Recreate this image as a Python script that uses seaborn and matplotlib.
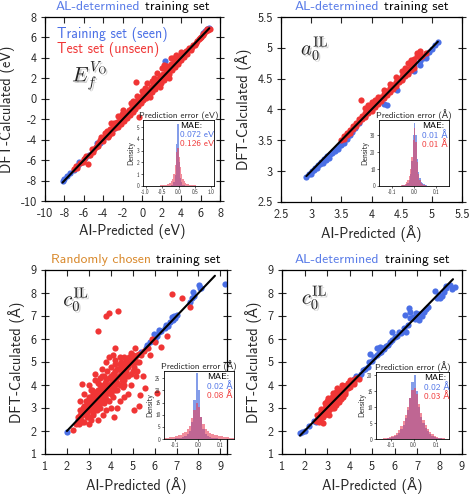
import numpy as np
import pandas as pd
import matplotlib.pyplot as plt
import matplotlib.patheffects as pe
from matplotlib.offsetbox import TextArea, HPacker, AnchoredOffsetbox
import seaborn as sns

# Data
# --------------

# Panel 1: oxygen vacancy formation energy (eV), AL-determined training set
ef_train = [(-8.2, -8.0), (-8.0, -7.8), (-7.7, -7.6), (-7.4, -7.3), (-7.0, -7.0),
            (-6.6, -6.5), (-6.5, -6.2), (-6.2, -6.2), (-5.9, -5.8), (-5.5, -5.5),
            (-5.1, -5.0), (-4.7, -4.6), (-4.7, -4.3), (-4.3, -4.3), (-4.0, -3.9),
            (-3.0, -3.0), (-2.0, -2.0), (-1.0, -1.0), (0.0, 0.0), (1.0, 1.0),
            (2.3, 3.7), (3.0, 3.0), (4.0, 4.0), (5.0, 5.0), (6.0, 6.0),
            (6.3, 6.4), (6.5, 6.6), (6.7, 6.8), (6.9, 6.9)]
ef_test = [(-7.0, -6.9), (-6.7, -6.8), (-6.4, -6.3), (-6.1, -6.2), (-5.8, -5.6),
           (-5.6, -6.4), (-5.4, -5.5), (-5.1, -5.2), (-4.8, -4.7), (-4.5, -4.6),
           (-4.3, -4.0), (-4.0, -4.1), (-3.7, -3.6), (-3.5, -3.7), (-3.3, -3.0),
           (-3.1, -3.3), (-3.0, -2.6), (-2.8, -2.9), (-2.6, -2.3), (-2.5, -2.8),
           (-2.3, -2.0), (-2.2, -2.5), (-2.0, -1.8), (-1.9, -2.2), (-1.7, -1.4),
           (-1.6, -1.9), (-1.4, -1.1), (-1.3, -1.6), (-1.1, -0.8), (-1.0, -1.3),
           (-0.8, -0.5), (-0.7, -1.0), (-0.6, 1.6), (-0.5, -0.2), (-0.4, -0.7),
           (-0.35, -1.8), (-0.2, 0.1), (-0.1, -0.4), (0.0, 0.3), (0.1, -0.1),
           (0.3, 0.5), (0.4, 0.1), (0.6, 0.9), (0.7, 0.4), (0.9, 1.2),
           (1.0, 0.7), (1.2, 1.5), (1.3, 1.0), (1.5, 1.8), (1.6, 1.3),
           (1.8, 2.2), (1.9, 1.5), (2.1, 2.4), (2.2, 1.8), (2.4, 2.8),
           (2.5, 2.1), (2.7, 3.0), (2.8, 2.4), (3.0, 3.4), (3.1, 2.8),
           (3.3, 3.6), (3.4, 3.1), (3.6, 3.9), (3.7, 3.4), (3.9, 4.2),
           (4.0, 3.8), (4.2, 4.5), (4.3, 4.1), (4.5, 4.7), (4.6, 4.4),
           (4.8, 5.0), (5.0, 4.8), (5.2, 5.3), (5.4, 5.3), (5.6, 5.7),
           (5.8, 5.8), (6.0, 6.0), (6.2, 6.2), (6.4, 6.4), (6.6, 6.6),
           (6.8, 6.7), (7.0, 6.8), (-3.2, -2.4), (-2.0, -1.1), (-1.2, -0.4),
           (0.5, 1.5), (1.5, 2.5), (2.0, 3.0), (3.0, 4.0), (0.0, 0.8),
           (-0.5, 0.3), (1.0, 1.7), (2.5, 3.2), (3.5, 4.3), (-2.5, -1.7),
           (-4.5, -4.3), (-5.2, -4.9), (0.8, 0.2), (1.8, 1.2), (2.8, 2.0),
           (-4.2, -3.7), (-3.8, -3.3), (-3.4, -3.5), (-2.9, -2.4), (-2.7, -2.6),
           (-2.4, -2.4), (-2.1, -1.5), (-1.8, -1.7), (-1.5, -1.5), (-1.2, -1.0),
           (-0.9, -0.9), (-0.6, -0.3), (-0.3, -0.3), (0.2, 0.2), (0.5, 0.6),
           (0.8, 0.8), (1.1, 1.3), (1.4, 1.4), (1.7, 1.9), (2.0, 2.1),
           (2.3, 2.4), (2.6, 2.7), (2.9, 2.8), (3.2, 3.3), (3.5, 3.6),
           (3.8, 3.7), (4.1, 4.2), (4.4, 4.4), (4.7, 4.8), (5.1, 5.1),
           (5.5, 5.5), (5.9, 5.9), (6.3, 6.3), (6.7, 6.8), (-1.0, -0.2),
           (0.3, 1.1), (1.2, 2.0), (2.2, 3.3), (3.2, 4.0), (4.0, 4.6),
           (-3.6, -3.2), (-6.0, -5.9), (-6.8, -6.6), (-5.0, -4.9), (-4.6, -4.4)]
ef_line = [-8.2, 6.9]
ef_err_start, ef_err_width = -0.72, 0.04
ef_err_train = [0, 0, 0, 0, 0, 0, 0, 0, 0.01, 0.02, 0.03, 0.04, 0.06, 0.12, 0.30, 0.90,
                3.60, 5.30, 2.00, 0.70, 0.30, 0.12, 0.06, 0.04, 0.03, 0.02, 0.01,
                0, 0, 0, 0, 0, 0, 0, 0, 0]
ef_err_test = [0.02, 0.02, 0.03, 0.03, 0.05, 0.05, 0.08, 0.10, 0.12, 0.16, 0.20, 0.28,
               0.40, 0.62, 1.00, 1.80, 2.90, 3.20, 2.50, 1.60, 1.00, 0.62, 0.40, 0.28,
               0.20, 0.15, 0.12, 0.10, 0.08, 0.06, 0.05, 0.04, 0.03, 0.03, 0.02, 0.02]
ef_mae = ["0.072 eV", "0.126 eV"]

# Panel 2: in-plane lattice constant a0 (Å), AL-determined training set
a0_train = [(2.92, 2.91), (2.97, 2.95), (3.02, 3.00), (3.07, 3.05), (3.12, 3.10),
            (3.17, 3.15), (3.22, 3.20), (3.25, 3.18), (3.27, 3.25), (3.30, 3.22),
            (3.32, 3.28), (3.35, 3.30), (3.37, 3.33), (3.42, 3.38), (3.45, 3.36),
            (3.47, 3.43), (3.52, 3.47), (3.55, 3.46), (3.57, 3.53), (3.62, 3.58),
            (3.67, 3.63), (3.72, 3.70), (3.80, 3.78), (3.90, 3.90), (4.00, 4.00),
            (4.10, 4.10), (4.21, 4.09), (4.26, 4.08), (4.43, 4.32), (4.50, 4.50),
            (4.60, 4.60), (4.70, 4.62), (4.70, 4.70), (4.80, 4.72), (4.80, 4.78),
            (4.85, 4.83), (4.90, 4.83), (4.90, 4.88), (4.95, 4.93), (5.00, 4.98),
            (5.05, 5.04), (5.10, 5.10), (3.00, 2.95), (3.10, 3.05), (3.20, 3.13),
            (3.40, 3.32), (3.50, 3.42), (3.60, 3.52), (3.65, 3.58), (3.15, 3.12),
            (3.05, 3.02)]
a0_test = [(3.50, 3.50), (3.55, 3.57), (3.60, 3.62), (3.65, 3.66), (3.70, 3.73),
           (3.75, 3.78), (3.80, 3.84), (3.83, 4.15), (3.85, 3.90), (3.90, 3.95),
           (3.95, 4.00), (4.00, 4.05), (4.05, 4.10), (4.10, 4.15), (4.15, 4.20),
           (4.20, 4.25), (4.25, 4.30), (4.30, 4.35), (4.35, 4.40), (4.40, 4.45),
           (4.45, 4.50), (4.50, 4.55), (4.55, 4.60), (4.60, 4.65), (4.65, 4.70),
           (4.70, 4.75), (4.75, 4.91), (4.80, 4.85), (4.84, 4.86), (4.90, 4.92),
           (3.60, 3.58), (3.70, 3.68), (3.80, 3.79), (3.90, 3.88), (4.00, 3.98),
           (4.10, 4.09), (4.20, 4.18), (4.30, 4.28), (4.40, 4.38), (4.50, 4.48),
           (4.60, 4.58), (4.70, 4.68), (3.90, 4.02), (4.00, 4.12), (4.10, 4.20),
           (4.30, 4.42), (4.50, 4.62), (4.60, 4.75), (4.70, 4.82), (4.65, 4.80),
           (4.80, 4.95), (4.78, 4.92), (3.55, 3.52), (3.65, 3.62), (3.75, 3.74),
           (3.85, 3.84), (3.95, 3.94), (4.05, 4.04), (4.15, 4.14), (4.25, 4.24),
           (4.35, 4.34), (4.45, 4.44), (4.55, 4.54), (4.65, 4.64), (3.95, 4.08),
           (4.05, 4.16), (4.20, 4.32), (4.40, 4.52), (4.55, 4.68), (4.75, 4.87)]
a0_line = [2.92, 5.1]
a0_err_start, a0_err_width = -0.072, 0.006
a0_err_train = [0.1, 0.1, 0.2, 0.3, 0.5, 0.8, 1.2, 2.0, 3.5, 7, 15, 30, 37, 30, 16, 8,
                4.5, 2.5, 1.5, 0.9, 0.5, 0.3, 0.2, 0.1]
a0_err_test = [0.1, 0.2, 0.3, 0.5, 0.8, 1.3, 2.2, 3.6, 6, 10, 17, 27, 34, 26, 14, 7,
               3.5, 1.8, 0.9, 0.5, 0.3, 0.2, 0.1, 0.1]
a0_mae = ["0.01 Å", "0.01 Å"]

# Panel 3: out-of-plane lattice constant c0 (Å), randomly chosen training set
c0r_train = [(2.0, 1.95), (2.5, 2.5), (3.0, 3.0), (3.5, 3.5), (4.0, 4.0), (4.5, 4.5),
             (5.0, 5.0), (5.4, 5.45), (5.6, 5.6), (5.64, 5.74), (5.8, 5.85), (5.95, 6.2),
             (6.0, 6.05), (6.0, 5.9), (6.1, 6.15), (6.2, 6.3), (6.22, 6.39), (6.3, 6.35),
             (6.45, 6.5), (6.5, 6.6), (6.6, 6.55), (6.7, 6.75), (6.81, 6.97), (6.86, 6.83),
             (6.9, 7.0), (6.95, 6.9), (7.0, 7.05), (7.6, 7.6), (7.69, 7.77), (7.76, 8.06),
             (7.8, 7.85), (8.02, 8.35), (8.06, 8.23), (8.1, 8.2), (9.2, 8.38)]
c0r_test = [(2.29, 2.04), (2.4, 2.3), (2.5, 2.6), (2.55, 2.3), (2.6, 2.9), (2.65, 2.5),
            (2.69, 4.03), (2.7, 2.7), (2.75, 3.0), (2.8, 2.4), (2.85, 3.3), (2.9, 2.8),
            (2.95, 3.1), (3.0, 2.6), (3.0, 3.5), (3.05, 3.0), (3.1, 3.3), (3.1, 2.5),
            (3.15, 3.8), (3.2, 3.1), (3.2, 2.8), (3.25, 3.5), (3.3, 3.2), (3.3, 4.2),
            (3.35, 2.9), (3.4, 3.6), (3.42, 6.35), (3.45, 3.3), (3.5, 4.0), (3.5, 3.0),
            (3.55, 3.7), (3.6, 3.4), (3.6, 4.4), (3.65, 2.7), (3.7, 3.8), (3.7, 3.2),
            (3.75, 4.1), (3.8, 3.6), (3.8, 7.0), (3.85, 4.6), (3.9, 7.15), (3.9, 3.9),
            (3.9, 3.3), (3.95, 4.3), (4.0, 3.7), (4.0, 4.8), (4.05, 4.1), (4.1, 3.5),
            (4.13, 2.62), (4.15, 4.5), (4.2, 4.0), (4.2, 5.1), (4.21, 5.62), (4.25, 4.3),
            (4.3, 3.8), (4.31, 7.22), (4.35, 4.7), (4.4, 4.4), (4.4, 3.3), (4.45, 5.0),
            (4.5, 4.2), (4.5, 4.6), (4.55, 3.9), (4.6, 5.2), (4.65, 4.7), (4.7, 4.4),
            (4.75, 5.0), (4.8, 4.8), (4.8, 3.6), (4.85, 5.2), (4.9, 4.5), (4.95, 5.0),
            (5.0, 5.3), (5.04, 2.91), (5.05, 4.8), (5.1, 5.2), (5.15, 4.4), (5.2, 5.3),
            (5.27, 3.07), (5.3, 5.0), (5.34, 3.57), (5.4, 5.3), (5.49, 4.41), (5.54, 3.88),
            (5.5, 5.5), (5.7, 5.6), (5.8, 5.3), (6.1, 3.64), (6.31, 5.64), (6.58, 6.14),
            (6.81, 7.94), (7.23, 7.80), (7.6, 7.37), (6.0, 5.85), (5.9, 6.0),
            (2.9, 3.0), (3.1, 3.15), (3.3, 3.35), (3.5, 3.55), (3.7, 3.65), (3.9, 4.0),
            (4.1, 4.15), (4.3, 4.35), (4.5, 4.55), (4.7, 4.75), (4.9, 4.95), (5.1, 5.05),
            (5.3, 5.35), (3.4, 3.8), (3.6, 3.9), (3.8, 4.2), (4.0, 4.4), (4.2, 4.6),
            (4.4, 4.9), (4.6, 4.9), (3.2, 3.6), (3.0, 3.3), (2.8, 3.1), (2.6, 2.7),
            (3.5, 3.2), (3.7, 3.5), (3.9, 3.7), (4.1, 3.9), (4.3, 4.1), (4.5, 4.3),
            (4.7, 4.6), (3.3, 3.0), (3.1, 2.9), (2.9, 2.6), (2.5, 2.4), (2.7, 2.4),
            (3.6, 4.7), (3.8, 5.0), (4.1, 5.3), (3.3, 4.5), (3.0, 4.0), (2.8, 3.6),
            (2.6, 3.3), (4.6, 3.5), (4.9, 4.0), (5.2, 4.6), (4.3, 3.0), (3.8, 2.9),
            (3.4, 2.5), (3.0, 2.3), (4.0, 3.0), (5.2, 5.0),
            (3.0, 3.05), (3.2, 3.25), (3.4, 3.45), (3.6, 3.65), (3.8, 3.85), (4.0, 4.05),
            (4.2, 4.25), (4.4, 4.45), (4.6, 4.65), (4.8, 4.85), (5.0, 5.05), (3.5, 3.8),
            (3.7, 4.0), (3.9, 4.3), (4.1, 4.5), (4.3, 4.7), (4.5, 4.8), (4.7, 5.1),
            (4.9, 5.2), (3.3, 3.7), (3.1, 3.5), (2.9, 3.3), (3.6, 3.3), (3.8, 3.4),
            (4.0, 3.6), (4.2, 3.8), (4.4, 4.0), (4.6, 4.2), (4.8, 4.4), (3.4, 3.1),
            (3.2, 2.7), (2.7, 2.9), (3.4, 4.1), (3.1, 3.8), (4.2, 4.9), (4.4, 5.2),
            (3.7, 4.4), (3.9, 5.2), (3.5, 4.3), (5.0, 4.6), (4.6, 4.0), (4.9, 5.4),
            (5.1, 5.6)]
c0r_line = [2.0, 8.75]
c0r_err_start, c0r_err_width = -0.15, 0.01
c0r_err_train = [0, 0, 0, 0.1, 0.2, 0.3, 0.4, 0.6, 0.8, 1.2, 2.0, 3.5, 7.0, 16, 27, 20,
                 9, 4.0, 2.0, 1.2, 0.8, 0.5, 0.4, 0.3, 0.2, 0.1, 0.1, 0, 0, 0, 0]
c0r_err_test = [0.5, 0.6, 0.7, 0.9, 1.0, 1.2, 1.5, 1.8, 2.3, 3.0, 4.0, 5.5, 8.5, 12, 15, 13,
                9, 6.0, 4.2, 3.2, 2.6, 2.2, 1.8, 1.5, 1.3, 1.1, 1.0, 0.8, 0.7, 0.6, 0.5]
c0r_mae = ["0.02 Å", "0.08 Å"]

# Panel 4: out-of-plane lattice constant c0 (Å), AL-determined training set
c0a_train = [(1.8, 1.9), (1.9, 1.95), (2.0, 2.0), (2.2, 2.2), (2.4, 2.45), (2.5, 2.4),
             (3.0, 3.0), (3.5, 3.5), (4.0, 4.0), (4.2, 4.25), (4.3, 4.4), (4.4, 4.35),
             (4.5, 4.5), (4.6, 4.65), (4.7, 4.7), (4.8, 4.8), (4.85, 5.0), (4.93, 5.33),
             (5.0, 5.05), (5.1, 5.2), (5.2, 5.3), (5.22, 5.62), (5.3, 5.4), (5.35, 5.65),
             (5.4, 5.45), (5.5, 5.6), (5.55, 5.55), (5.6, 5.7), (5.7, 5.75), (5.8, 5.85),
             (5.9, 5.95), (5.9, 6.32), (6.0, 6.1), (6.1, 6.15), (6.2, 6.3), (6.3, 6.25),
             (6.4, 6.5), (6.47, 7.04), (6.5, 6.32), (6.6, 6.6), (6.65, 7.36), (6.69, 7.19),
             (6.7, 6.9), (6.8, 6.95), (6.9, 6.85), (6.95, 7.12), (7.0, 7.0), (7.07, 6.83),
             (7.1, 7.1), (7.2, 7.0), (7.32, 7.19), (7.4, 7.3), (7.5, 7.4), (7.82, 8.09),
             (7.9, 7.8), (7.97, 7.91), (8.03, 7.77), (8.1, 7.85), (8.22, 8.06), (8.3, 8.2),
             (8.3, 8.3), (8.45, 8.35), (8.57, 8.17), (8.67, 8.28)]
c0a_test = [(2.5, 2.45), (2.6, 2.6), (2.65, 2.4), (2.7, 2.8), (2.75, 2.55), (2.8, 2.9),
            (2.83, 2.33), (2.85, 2.7), (2.9, 3.0), (2.95, 2.8), (3.0, 3.1), (3.0, 2.75),
            (3.05, 2.95), (3.1, 3.2), (3.1, 2.9), (3.15, 3.0), (3.2, 3.3), (3.2, 3.14),
            (3.25, 3.4), (3.3, 3.2), (3.35, 3.57), (3.35, 3.35), (3.4, 3.3), (3.45, 3.6),
            (3.5, 3.5), (3.53, 3.28), (3.55, 3.7), (3.6, 3.55), (3.65, 4.0), (3.65, 3.6),
            (3.7, 3.75), (3.75, 3.85), (3.8, 3.7), (3.85, 3.9), (3.9, 4.0), (3.95, 3.85),
            (4.03, 4.22), (4.0, 4.05), (4.1, 4.1), (4.15, 4.2), (4.2, 4.15), (4.3, 4.3),
            (4.4, 4.25), (3.2, 3.5), (3.0, 3.3), (2.9, 3.2), (3.4, 3.7), (3.6, 3.8),
            (3.1, 2.7), (3.3, 3.0), (2.7, 2.6), (3.5, 3.25), (3.8, 3.95), (3.7, 3.5),
            (2.55, 2.7), (2.75, 2.95), (2.95, 3.15), (3.15, 3.35), (3.35, 3.5), (3.55, 3.75),
            (3.75, 3.95), (3.95, 4.1), (2.6, 2.45), (2.8, 2.6), (3.0, 2.8), (3.2, 3.0),
            (3.4, 3.15), (3.6, 3.4), (3.8, 3.6), (4.0, 3.9), (4.2, 4.05), (3.45, 3.85),
            (3.25, 3.65), (3.05, 3.45)]
c0a_line = [1.8, 8.6]
c0a_err_start, c0a_err_width = -0.16, 0.01
c0a_err_train = [0, 0, 0.1, 0.1, 0.2, 0.3, 0.5, 0.8, 1.3, 2.0, 3.0, 4.5, 6.5, 9.0, 13, 18,
                 20, 15, 10, 7, 5, 3.5, 2.4, 1.5, 0.9, 0.6, 0.4, 0.3, 0.2, 0.1, 0.1, 0]
c0a_err_test = [0.1, 0.1, 0.2, 0.3, 0.4, 0.6, 0.9, 1.4, 2.0, 2.8, 4.0, 5.5, 7.5, 10, 13, 15.5,
                16, 14, 11, 8, 6, 4.5, 3.2, 2.2, 1.5, 1.0, 0.6, 0.4, 0.3, 0.2, 0.1, 0.1]
c0a_mae = ["0.02 Å", "0.03 Å"]

# Set-up
# --------------
BLUE = "#4a6fe6"
RED = "#f03535"
TITLE_BLUE = "#5a7ce8"
ORANGE = "#d98a2e"
HIST_BLUE = "#6f8ce6"
HIST_RED = "#e8425a"

sns.set_theme(style="ticks")
plt.rcParams["font.family"] = ["cmss10", "DejaVu Sans"]
plt.rcParams["axes.unicode_minus"] = False
plt.rcParams["mathtext.fontset"] = "cm"
plt.rcParams["axes.edgecolor"] = "black"

W, H = 469, 497
figure = plt.figure(figsize=(W / 100, H / 100), dpi=100)


def px_rect(l, t, r, b):
    return [l / W, 1 - b / H, (r - l) / W, (b - t) / H]


def two_tone_title(ax, first, color):
    box = HPacker(children=[TextArea(first, textprops=dict(color=color, fontsize=9.8)),
                            TextArea("training set", textprops=dict(color="black", fontsize=9.8))],
                  align="baseline", pad=0, sep=4)
    anchored = AnchoredOffsetbox(loc="lower center", child=box, pad=0, borderpad=0,
                                 frameon=False, bbox_to_anchor=(0.5, 1.02),
                                 bbox_transform=ax.transAxes)
    ax.add_artist(anchored)


def draw_panel(rect, inset_rect, train, test, line, lims, ticks, unit, symbol, sym_pos,
               err_start, err_width, err_train, err_test, err_lim, err_xticks, err_yticks,
               mae, mae_x):
    ax = figure.add_axes(px_rect(*rect))
    tr = pd.DataFrame(train, columns=["pred", "calc"])
    te = pd.DataFrame(test, columns=["pred", "calc"])
    sns.scatterplot(data=tr, x="pred", y="calc", color=BLUE, s=20, linewidth=0, ax=ax, zorder=2)
    sns.scatterplot(data=te, x="pred", y="calc", color=RED, s=20, linewidth=0, ax=ax, zorder=3)
    sns.lineplot(x=line, y=line, color="black", linewidth=1.5, ax=ax, zorder=4)
    ax.set(xlim=lims[0], ylim=lims[1], xticks=ticks[0], yticks=ticks[1])
    ax.set_xticklabels([f"{t:g}" for t in ticks[0]])
    ax.set_yticklabels([f"{t:g}" for t in ticks[1]])
    ax.set_xlabel(f"AI-Predicted ({unit})", fontsize=10.3, labelpad=3)
    ax.set_ylabel(f"DFT-Calculated ({unit})", fontsize=10.3, labelpad=4)
    ax.tick_params(axis="x", direction="in", top=True, length=4, width=0.8, labelsize=8.8, pad=5)
    ax.tick_params(axis="y", direction="inout", right=True, length=6, width=0.8, labelsize=8.8, pad=3)
    for s in ax.spines.values():
        s.set_linewidth(0.9)
    ax.text(sym_pos[0], sym_pos[1], symbol, transform=ax.transAxes, fontsize=15,
            va="center", ha="left", color="#222222",
            path_effects=[pe.withSimplePatchShadow(offset=(1.2, -1.2), shadow_rgbFace="0.45", alpha=0.35)])

    # Inset with the prediction error distributions
    ins = figure.add_axes(px_rect(*inset_rect))
    edges = err_start + err_width * np.arange(len(err_train) + 1)
    hist = pd.DataFrame({"err": edges[:-1] + err_width / 2,
                         "train": err_train, "test": err_test})
    bins = [float(e) for e in edges]
    sns.histplot(data=hist, x="err", weights="train", bins=bins, color=HIST_BLUE, alpha=0.85,
                 linewidth=0, ax=ins)
    sns.histplot(data=hist, x="err", weights="test", bins=bins, color=HIST_RED, alpha=0.6,
                 linewidth=0, ax=ins)
    ins.set(xlim=err_lim[0], ylim=err_lim[1], xticks=err_xticks, yticks=err_yticks)
    ins.set_xticklabels([f"{t:.1f}" for t in err_xticks])
    ins.set_xlabel("")
    ins.set_ylabel("Density", fontsize=5.5, labelpad=1)
    ins.set_title(f"Prediction error ({unit})", fontsize=6.5, pad=1.5)
    ins.tick_params(direction="out", length=1.5, width=0.5, labelsize=3.8, pad=1)
    for s in ins.spines.values():
        s.set_linewidth(0.6)
    ins.text(mae_x, 0.905, "MAE:", transform=ins.transAxes, fontsize=6.6, va="center", color="black")
    ins.text(mae_x, 0.77, mae[0], transform=ins.transAxes, fontsize=6.6, va="center", color=BLUE)
    ins.text(mae_x, 0.635, mae[1], transform=ins.transAxes, fontsize=6.6, va="center", color=RED)
    return ax


ax1 = draw_panel((45, 17, 220, 201), (143, 120, 214, 186), ef_train, ef_test, ef_line,
                 ((-10, 8), (-10, 8)), (range(-10, 9, 2), range(-10, 9, 2)), "eV",
                 r"$E_f^{V_{\rm O}}$", (0.155, 0.68),
                 ef_err_start, ef_err_width, ef_err_train, ef_err_test,
                 ((-1.08, 1.08), (0, 5.6)), [-1.0, -0.5, 0.0, 0.5, 1.0], range(0, 6), ef_mae, 0.52)
ax1.text(0.07, 0.905, "Training set (seen)", transform=ax1.transAxes, fontsize=10,
         color=BLUE, va="center")
ax1.text(0.07, 0.825, "Test set (unseen)", transform=ax1.transAxes, fontsize=10,
         color=RED, va="center")
two_tone_title(ax1, "AL-determined", TITLE_BLUE)

ax2 = draw_panel((281, 17, 462, 202), (379, 120, 449, 186), a0_train, a0_test, a0_line,
                 ((2.5, 5.5), (2.5, 5.5)), ([2.5, 3, 3.5, 4, 4.5, 5, 5.5], [2.5, 3, 3.5, 4, 4.5, 5, 5.5]),
                 "Å", r"$a_0^{\rm IL}$", (0.11, 0.83),
                 a0_err_start, a0_err_width, a0_err_train, a0_err_test,
                 ((-0.16, 0.16), (0, 39)), [-0.1, 0.0, 0.1], [0, 10, 20, 30], a0_mae, 0.62)
two_tone_title(ax2, "AL-determined", TITLE_BLUE)

ax3 = draw_panel((45, 270, 227, 454), (164, 371, 234, 439), c0r_train, c0r_test, c0r_line,
                 ((1, 9.3), (1, 9)), (range(1, 10), range(1, 10)), "Å",
                 r"$c_0^{\rm IL}$", (0.10, 0.84),
                 c0r_err_start, c0r_err_width, c0r_err_train, c0r_err_test,
                 ((-0.15, 0.16), (0, 28)), [-0.1, 0.0, 0.1], [0, 5, 10, 15, 20, 25], c0r_mae, 0.62)
two_tone_title(ax3, "Randomly chosen", ORANGE)

ax4 = draw_panel((282, 270, 462, 454), (376, 372, 449, 439), c0a_train, c0a_test, c0a_line,
                 ((1, 9), (1, 9)), (range(1, 10), range(1, 10)), "Å",
                 r"$c_0^{\rm IL}$", (0.11, 0.85),
                 c0a_err_start, c0a_err_width, c0a_err_train, c0a_err_test,
                 ((-0.17, 0.16), (0, 21)), [-0.1, 0.0, 0.1], [0, 5, 10, 15, 20], c0a_mae, 0.66)
two_tone_title(ax4, "AL-determined", TITLE_BLUE)

# Rendering
# --------------
figure.savefig("out.png", dpi=100)
